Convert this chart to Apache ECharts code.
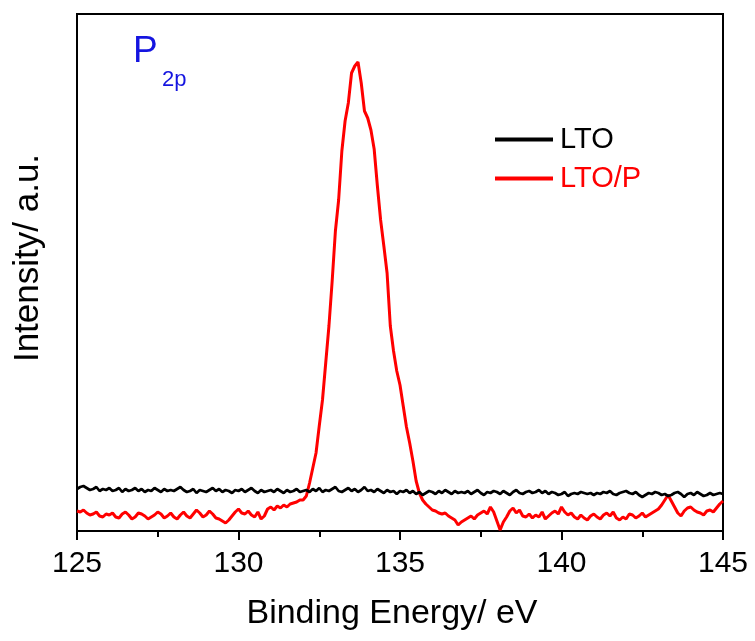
<!DOCTYPE html>
<html>
<head>
<meta charset="utf-8">
<script src="https://cdn.jsdelivr.net/npm/echarts@6/dist/echarts.min.js"></script>
<style>html,body{margin:0;padding:0;background:#fff}#c{width:755px;height:641px}</style>
</head>
<body>
<div id="c"></div>
<script>
const xStart = 125, xStep = 0.1;
const ltoP = [
20,19,21,18,16,17,19,15,14,17,
16,18,14,13,17,19,16,12,14,18,
17,15,12,14,16,19,17,13,15,18,
14,12,16,19,15,13,17,21,18,14,
16,20,17,13,12,10,8,11,15,19,
22,18,17,20,16,14,19,12,15,22,
24,21,25,23,26,24,27,28,29,31,
31,35,48,63,78,105,131,168,205,250,
300,331,380,410,428,458,465,469,448,420,
413,401,382,345,311,285,258,205,180,160,
146,125,104,88,70,50,38,31,27,24,
21,20,18,17,18,15,13,11,6,9,
11,13,15,12,16,18,20,17,24,19,
10,1,9,14,20,23,18,21,15,14,
17,13,16,14,19,12,15,18,20,17,
24,19,16,18,14,12,16,13,11,15,
17,14,12,16,18,15,19,13,11,14,
12,17,16,13,15,18,14,16,18,20,
22,26,31,36,30,24,18,15,20,23,
24,21,19,18,16,20,21,19,23,27,
30];
const lto = [
42,44,45,43,41,42,44,40,42,41,
43,40,41,43,39,42,40,41,43,40,
42,39,41,40,43,41,39,42,40,41,
40,42,44,41,39,40,42,38,41,40,
39,41,43,40,42,39,41,40,38,41,
40,42,39,41,43,40,38,41,39,40,
41,39,42,40,38,41,39,40,42,39,
40,41,39,42,40,43,39,41,40,42,
44,40,39,41,43,40,42,39,41,44,
40,41,39,42,40,38,41,39,40,37,
40,39,41,38,40,37,39,36,38,40,
39,37,40,38,41,39,37,40,38,39,
38,40,37,39,41,38,36,39,38,40,
39,37,40,38,36,39,41,38,37,39,
40,38,39,41,38,40,37,39,38,36,
37,39,35,37,38,37,39,38,37,38,
36,38,37,39,38,40,37,36,38,39,
40,38,37,39,36,34,36,38,37,39,
38,36,37,35,36,38,39,37,34,37,
38,36,39,37,35,36,38,36,37,38,
37];
const seriesNames = ['LTO', 'LTO/P'];
const xTicks = [125, 130, 135, 140, 145];

function pairs(arr){ return arr.map((v,i)=>[+(xStart + i*xStep).toFixed(1), v]); }

const chart = echarts.init(document.getElementById('c'));
const font = '"Liberation Sans", Arial, sans-serif';
chart.setOption({
  animation: false,
  backgroundColor: '#fff',
  grid: {left: 77, right: 32, top: 14, bottom: 110, show: true, borderColor: '#000', borderWidth: 2},
  xAxis: {
    type: 'value', min: xTicks[0], max: xTicks[xTicks.length-1], interval: 5,
    name: 'Binding Energy/ eV', nameLocation: 'middle', nameGap: 66,
    nameTextStyle: {fontFamily: font, fontSize: 34, color: '#000', padding: [0, 16, 0, 0]},
    axisLine: {show: true, lineStyle: {color: '#000', width: 2}},
    axisTick: {show: true, length: 9, lineStyle: {color: '#000', width: 2}},
    minorTick: {show: true, splitNumber: 2, length: 6, lineStyle: {color: '#000', width: 2}},
    axisLabel: {fontFamily: font, fontSize: 30, color: '#000', margin: 18},
    splitLine: {show: false}
  },
  yAxis: {
    type: 'value', min: 0, max: 517,
    axisLine: {show: true, lineStyle: {color: '#000', width: 2}},
    axisTick: {show: false}, axisLabel: {show: false}, splitLine: {show: false}
  },
  legend: {
    orient: 'vertical', left: 490, top: 119, itemGap: 8,
    icon: 'rect', itemWidth: 58, itemHeight: 4,
    textStyle: {fontFamily: font, fontSize: 29, lineHeight: 31, padding: [0,0,0,2]},
    data: [
      {name: seriesNames[0], textStyle: {color: '#000'}},
      {name: seriesNames[1], textStyle: {color: '#ff0000'}}
    ]
  },
  graphic: [{
    type: 'text', left: 133, top: 33,
    style: {text: 'P', fontFamily: font, fontSize: 37, fill: '#1515e0'}
  }, {
    type: 'text', left: 162, top: 69,
    style: {text: '2p', fontFamily: font, fontSize: 22, fill: '#1515e0'}
  }, {
    type: 'text', x: 28, y: 258, rotation: Math.PI / 2,
    style: {text: 'Intensity/ a.u.', fontFamily: font, fontSize: 35, fill: '#000', align: 'center', verticalAlign: 'middle'}
  }],
  series: [
    {name: seriesNames[0], type: 'line', data: pairs(lto), symbol: 'none', z: 3,
     itemStyle: {color: '#000'}, lineStyle: {color: '#000', width: 2.7}},
    {name: seriesNames[1], type: 'line', data: pairs(ltoP), symbol: 'none', z: 2,
     itemStyle: {color: '#ff0000'}, lineStyle: {color: '#ff0000', width: 3}}
  ]
});
</script>
</body>
</html>
